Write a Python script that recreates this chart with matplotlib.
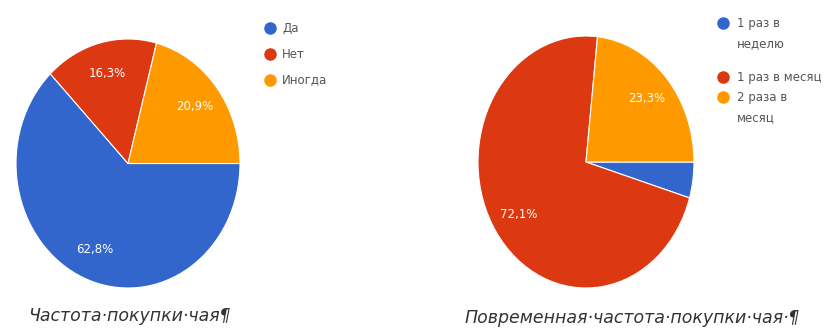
import matplotlib
matplotlib.use("Agg")
import numpy as np
import matplotlib.pyplot as plt
from matplotlib.lines import Line2D

# Chart 1: how often tea is bought
freq_labels = ["Да", "Нет", "Иногда"]
freq_values = [62.8, 16.3, 20.9]
freq_pct_text = ["62,8%", "16,3%", "20,9%"]

# Chart 2: periodic purchase frequency
period_labels = ["1 раз в\nнеделю", "1 раз в месяц", "2 раза в\nмесяц"]
period_values = [4.6, 72.1, 23.3]
period_pct_text = ["", "72,1%", "23,3%"]

captions = ["Частота·покупки·чая¶", "Повременная·частота·покупки·чая·¶"]

colors = ["#3366CC", "#DC3912", "#FF9900"]

W, H = 829, 330
fig = plt.figure(figsize=(W / 100, H / 100), dpi=100)
fig.patch.set_facecolor("white")


def px_axes(x0, y0, x1, y1):
    return fig.add_axes([x0 / W, 1 - y1 / H, (x1 - x0) / W, (y1 - y0) / H])


def draw_pie(ax, values, pct_text):
    ax.pie(values, colors=colors, startangle=0, counterclock=False,
           radius=1.0, wedgeprops=dict(edgecolor="white", linewidth=0.8))
    angle = 0.0
    total = sum(values)
    for v, t in zip(values, pct_text):
        span = 360.0 * v / total
        mid = np.deg2rad(angle - span / 2)
        angle -= span
        if t:
            ax.text(0.75 * np.cos(mid), 0.75 * np.sin(mid), t, color="white",
                    fontsize=8.5, ha="center", va="center")
    ax.set_xlim(-1, 1)
    ax.set_ylim(-1, 1)
    ax.set_aspect("auto")
    ax.axis("off")


ax1 = px_axes(16, 39, 240, 288)
draw_pie(ax1, freq_values, freq_pct_text)

ax2 = px_axes(478, 36, 694, 288)
draw_pie(ax2, period_values, period_pct_text)

text_color = "#555555"

# Legend of chart 1
for i, lab in enumerate(freq_labels):
    y = 28 + i * 26
    fig.add_artist(Line2D([270 / W], [1 - y / H], marker="o", markersize=8,
                          color=colors[i], linestyle="none"))
    fig.text(282 / W, 1 - y / H, lab, fontsize=8.5, color=text_color,
             ha="left", va="center")

# Legend of chart 2
leg2_y = [23, 77, 97]
for i, lab in enumerate(period_labels):
    y = leg2_y[i]
    fig.add_artist(Line2D([723 / W], [1 - y / H], marker="o", markersize=8,
                          color=colors[i], linestyle="none"))
    fig.text(737 / W, 1 - (y - 6) / H, lab, fontsize=8.5, color=text_color,
             ha="left", va="top", linespacing=1.75)

# Captions below the pies
fig.text(28 / W, 1 - 316 / H, captions[0], fontsize=12.5, style="italic",
         color="#333333", ha="left", va="center")
fig.text(465 / W, 1 - 318 / H, captions[1], fontsize=12.5, style="italic",
         color="#333333", ha="left", va="center")

fig.savefig("out.png", dpi=100, facecolor="white")
